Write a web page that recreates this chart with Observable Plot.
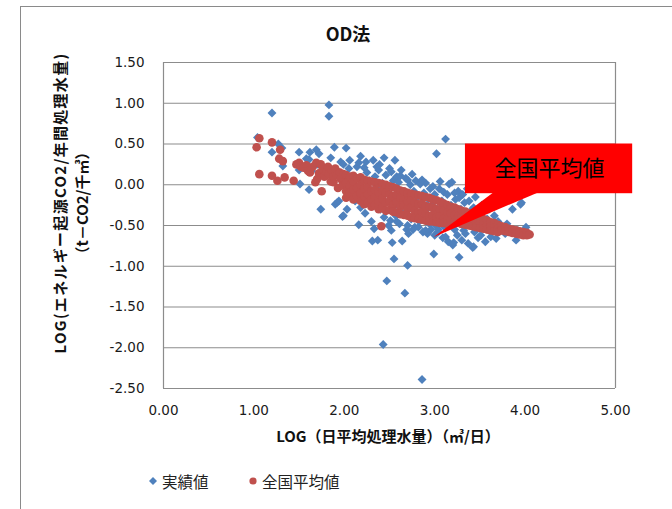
<!DOCTYPE html>
<html>
<head>
<meta charset="utf-8">
<script src="https://cdn.jsdelivr.net/npm/d3@7"></script>
<script src="https://cdn.jsdelivr.net/npm/@observablehq/plot@0.6"></script>
<style>
  html, body { margin: 0; padding: 0; background: #fff; }
  #wrap { position: relative; width: 672px; height: 509px; overflow: hidden; background: #fff; }
  #wrap svg { position: absolute; left: 0; top: 0; }
  .abs { position: absolute; white-space: nowrap; font-family: "Noto Sans CJK JP", sans-serif; color: #111; }
  .border { position: absolute; left: 20px; top: 6px; width: 800px; height: 700px; border-left: 1px solid #8a8a8a; border-top: 1px solid #8a8a8a; }
</style>
</head>
<body>
<div id="wrap">
  <div class="border"></div>
</div>
<script>
// ---- data ----
const chartTitle = "OD法";
const xAxisTitle = "LOG（日平均処理水量）（㎥/日）";
const yAxisTitleLine1 = "LOG(エネルギー起源CO2/年間処理水量)";
const yAxisTitleLine2 = "（t－CO2/千㎥）";
const seriesNames = ["実績値", "全国平均値"];
const seriesColors = ["#4F81BD", "#C0504D"];
const xTicks = [0, 1, 2, 3, 4, 5];
const yTicks = [-2.5, -2, -1.5, -1, -0.5, 0, 0.5, 1, 1.5];
const calloutLabel = "全国平均値";
const calloutBox = [{x1: 3.34, x2: 5.19, y1: -0.11, y2: 0.50}];
const calloutPointer = [[3.64, -0.10], [4.13, -0.10], [2.99, -0.64]];
const calloutTextPos = [{x: 4.27, y: 0.19}];

// 実績値 (x, y)
const actualPoints = [
[1.04,0.58],[1.20,0.88],[1.20,0.40],[1.27,0.50],[1.32,0.23],[1.31,0.45],
[1.50,0.40],[1.51,0.01],[1.50,0.18],[1.58,0.32],[1.61,0.31],[1.61,-0.06],[1.62,0.40],[1.64,0.17],[1.69,0.43],[1.70,0.25],[1.72,0.38],[1.74,-0.30],[1.75,0.12],[1.78,0.20],
[1.83,0.98],[1.83,0.84],[1.85,0.33],[1.87,0.10],[1.89,0.46],[1.90,-0.24],[1.92,-0.22],[1.94,-0.20],[1.95,0.15],[1.96,0.28],[1.98,-0.39],[1.99,-0.38],[1.99,0.25],[2.00,0.05],[2.02,0.45],[2.03,-0.30],[2.04,-0.10],[2.05,0.20],[2.06,0.30],[2.08,-0.15],[2.10,0.10],[2.12,-0.20],[2.14,0.22],[2.16,0.27],[2.16,-0.49],[2.18,0.35],[2.18,-0.28],[2.19,0.08],[2.20,-0.05],[2.22,0.21],[2.23,-0.35],[2.25,0.15],[2.26,-0.12],[2.28,0.05],[2.29,-0.25],[2.30,-0.45],[2.31,-0.69],[2.32,0.30],[2.33,-0.54],[2.34,0.10],[2.35,-0.18],[2.36,-0.02],[2.37,-0.68],[2.38,0.18],[2.39,0.25],[2.40,-0.30],[2.41,-0.10],[2.42,0.02],[2.43,-1.96],[2.44,0.33],[2.44,-0.40],[2.45,-0.22],[2.46,0.12],[2.47,-1.18],[2.48,-0.05],[2.49,-0.50],[2.50,0.20],[2.51,-0.44],[2.52,-0.56],[2.52,-0.30],[2.53,-0.71],[2.54,0.05],[2.55,-0.91],[2.55,-0.15],[2.56,0.30],[2.57,-0.38],[2.58,0.10],[2.59,-0.25],[2.60,0.03],[2.61,-0.48],[2.62,-0.08],[2.63,0.18],[2.64,-0.69],[2.65,-0.35],[2.66,-0.12],[2.67,-1.33],[2.68,0.08],[2.69,-0.55],[2.70,-0.99],[2.70,-0.50],[2.71,-0.60],[2.72,-0.20],[2.73,0.00],[2.74,-0.42],[2.75,0.13],[2.76,-0.28],[2.77,-0.08],[2.78,-0.52],[2.79,0.05],[2.80,-0.35],[2.81,-0.15],[2.82,-0.52],[2.83,-0.45],[2.84,0.01],[2.85,-0.25],[2.86,-2.39],[2.87,-0.58],[2.88,-0.10],[2.89,-0.40],[2.90,0.02],[2.91,-0.30],[2.92,-0.60],[2.93,-0.18],[2.94,-0.48],[2.95,-0.05],[2.96,-0.55],[2.97,-0.25],[2.98,-0.38],[2.99,-0.85],[3.00,-0.62],[3.00,-0.12],[3.01,-0.50],[3.02,0.38],[3.03,-0.30],[3.04,-0.58],[3.05,-0.05],[3.06,0.04],[3.07,-0.45],[3.08,-0.20],[3.09,-0.65],[3.10,-0.09],[3.11,-0.52],[3.12,0.56],[3.12,-0.64],[3.13,-0.35],[3.14,-0.12],[3.15,-0.70],[3.16,0.01],[3.17,-0.42],[3.18,-0.25],[3.19,0.03],[3.20,-0.74],[3.21,-0.71],[3.22,-0.55],[3.23,-0.18],[3.24,-0.38],[3.25,-0.62],[3.26,-0.08],[3.27,-0.89],[3.27,-0.16],[3.28,-0.48],[3.29,-0.30],[3.30,-0.68],[3.31,-0.12],[3.32,-0.56],[3.33,-0.22],[3.34,-0.60],[3.35,-0.40],[3.36,-0.05],[3.37,-0.72],[3.38,-0.20],[3.38,0.02],[3.39,-0.50],[3.40,-0.32],[3.42,-0.77],[3.43,-0.28],[3.43,-0.76],[3.44,-0.58],[3.45,-0.15],[3.45,0.00],[3.46,-0.45],[3.48,-0.65],[3.50,-0.35],[3.51,-0.62],[3.52,-0.25],[3.54,-0.52],[3.56,-0.70],[3.58,-0.42],[3.60,-0.30],[3.62,-0.58],[3.62,-0.64],[3.64,-0.48],[3.66,-0.38],[3.68,-0.66],[3.70,-0.45],[3.72,-0.55],[3.75,-0.52],[3.78,-0.60],[3.80,-0.48],[3.83,-0.58],[3.86,-0.30],[3.90,-0.68],[3.92,-0.56],[3.95,-0.24],[3.96,-0.22],[4.01,-0.52],[4.03,-0.60],
[2.24,0.28],[2.36,0.22],[2.52,0.16],[2.62,0.11],[2.70,0.06],[2.86,0.06],[2.98,-0.02],[3.22,-0.10],[2.58,-0.45],[2.76,-0.55],[2.90,-0.56],[3.04,-0.55]
];

// 全国平均値 (x, y)
const averagePoints = [
[1.03,0.46],[1.06,0.57],[1.06,0.13],[1.20,0.52],[1.20,0.11],[1.26,0.05],[1.28,0.32],[1.29,0.43],[1.32,0.29],[1.34,0.09],[1.44,0.05],[1.47,0.25],[1.50,0.27],[1.52,0.22],[1.55,0.21],[1.58,0.24],[1.60,0.17],[1.62,0.15],[1.65,0.22],[1.68,0.03],[1.69,0.27],[1.70,0.07],[1.72,0.14],[1.74,0.25],[1.75,-0.08],[1.76,0.19],[1.78,0.10],[1.80,0.16],[1.82,0.22],[1.83,0.13],[1.85,0.04],[1.86,0.18],[1.88,0.03],[1.88,0.10],[1.90,0.20],[1.92,0.12],[1.93,-0.04],[1.95,0.15],[1.96,0.07],[1.98,-0.01],[1.99,0.13],
[2.02,0.12],[2.02,0.02],[2.02,-0.08],[2.02,-0.16],
[2.06,0.10],[2.06,-0.01],[2.06,-0.10],
[2.10,0.11],[2.10,0.03],[2.10,-0.06],[2.10,-0.18],
[2.14,0.08],[2.14,-0.04],[2.14,-0.14],
[2.18,0.09],[2.18,0.00],[2.18,-0.10],[2.18,-0.20],
[2.22,0.06],[2.22,-0.05],[2.22,-0.15],[2.22,-0.24],
[2.26,0.05],[2.26,-0.03],[2.26,-0.12],[2.26,-0.22],
[2.30,0.04],[2.30,-0.08],[2.30,-0.18],[2.30,-0.27],
[2.34,0.03],[2.34,-0.06],[2.34,-0.15],[2.34,-0.25],
[2.38,0.02],[2.38,-0.09],[2.38,-0.20],[2.38,-0.30],
[2.41,-0.51],
[2.42,0.01],[2.42,-0.07],[2.42,-0.17],[2.42,-0.28],
[2.46,0.00],[2.46,-0.10],[2.46,-0.22],[2.46,-0.32],
[2.50,-0.02],[2.50,-0.12],[2.50,-0.20],[2.50,-0.31],
[2.54,-0.03],[2.54,-0.14],[2.54,-0.25],[2.54,-0.33],
[2.58,-0.05],[2.58,-0.13],[2.58,-0.22],[2.58,-0.34],
[2.62,-0.07],[2.62,-0.16],[2.62,-0.27],[2.62,-0.36],
[2.66,-0.08],[2.66,-0.18],[2.66,-0.25],[2.66,-0.37],
[2.70,-0.10],[2.70,-0.20],[2.70,-0.30],[2.70,-0.38],
[2.74,-0.11],[2.74,-0.19],[2.74,-0.28],[2.74,-0.40],
[2.78,-0.12],[2.78,-0.22],[2.78,-0.32],[2.78,-0.41],
[2.82,-0.13],[2.82,-0.24],[2.82,-0.34],[2.82,-0.42],
[2.86,-0.14],[2.86,-0.23],[2.86,-0.33],[2.86,-0.43],
[2.90,-0.15],[2.90,-0.26],[2.90,-0.36],[2.90,-0.44],
[2.94,-0.16],[2.94,-0.27],[2.94,-0.38],[2.94,-0.45],
[2.98,-0.18],[2.98,-0.28],[2.98,-0.37],[2.98,-0.45],
[3.02,-0.19],[3.02,-0.30],[3.02,-0.40],[3.02,-0.46],
[3.06,-0.21],[3.06,-0.31],[3.06,-0.39],[3.06,-0.47],
[3.10,-0.23],[3.10,-0.32],[3.10,-0.42],[3.10,-0.47],
[3.14,-0.25],[3.14,-0.34],[3.14,-0.43],[3.14,-0.48],
[3.18,-0.27],[3.18,-0.35],[3.18,-0.44],
[3.22,-0.28],[3.22,-0.37],[3.22,-0.46],
[3.26,-0.30],[3.26,-0.38],[3.26,-0.47],
[3.30,-0.32],[3.30,-0.40],[3.30,-0.48],
[3.34,-0.33],[3.34,-0.41],[3.34,-0.49],
[3.38,-0.35],[3.38,-0.43],[3.38,-0.50],
[3.42,-0.37],[3.42,-0.44],[3.42,-0.51],
[3.46,-0.38],[3.46,-0.46],[3.46,-0.52],
[3.50,-0.40],[3.50,-0.47],[3.50,-0.53],
[3.54,-0.42],[3.54,-0.48],[3.54,-0.54],
[3.58,-0.44],[3.58,-0.50],[3.58,-0.55],
[3.62,-0.46],[3.62,-0.51],[3.62,-0.56],
[3.66,-0.47],[3.66,-0.53],[3.66,-0.57],
[3.70,-0.49],[3.70,-0.54],[3.70,-0.58],
[3.74,-0.51],[3.74,-0.56],
[3.78,-0.52],[3.78,-0.57],
[3.82,-0.54],[3.82,-0.58],
[3.86,-0.55],[3.86,-0.59],
[3.90,-0.56],[3.90,-0.60],
[3.94,-0.57],[3.94,-0.61],
[3.98,-0.58],[3.98,-0.62],
[4.02,-0.59],[4.02,-0.62],
[4.05,-0.61]
];

// ---- chart ----
const fmt = d => d.toFixed(2);
const toObj = ([x, y]) => ({x, y});
const actual = actualPoints.map(toObj);
const average = averagePoints.map(toObj);
const pointer = calloutPointer.map(toObj);
const gridColor = "#8c8c8c";

const chart = Plot.plot({
  width: 672,
  height: 509,
  marginLeft: 163,
  marginRight: 57,
  marginTop: 62,
  marginBottom: 121,
  style: {fontFamily: "DejaVu Sans, sans-serif", fontSize: "13.5px", color: "#1a1a1a", background: "transparent", overflow: "visible"},
  x: {domain: [0, 5]},
  y: {domain: [-2.5, 1.5]},
  marks: [
    Plot.gridY(yTicks, {stroke: gridColor, strokeOpacity: 1, strokeWidth: 1.2}),
    Plot.ruleX([0, 5], {stroke: gridColor, strokeWidth: 1.2}),
    Plot.axisX({ticks: xTicks, tickFormat: fmt, tickSize: 0, tickPadding: 17, label: null}),
    Plot.axisY({ticks: yTicks, tickFormat: fmt, tickSize: 0, tickPadding: 19, label: null}),
    Plot.dot(actual, {x: "x", y: "y", symbol: "diamond2", r: 4, fill: seriesColors[0], stroke: "none"}),
    Plot.dot(average, {x: "x", y: "y", symbol: "circle", r: 4.3, fill: seriesColors[1], stroke: "none"}),
    Plot.line(pointer, {x: "x", y: "y", fill: "#FF0000", stroke: "none"}),
    Plot.rect(calloutBox, {x1: "x1", x2: "x2", y1: "y1", y2: "y2", fill: "#FF0000"}),
    Plot.text(calloutTextPos, {x: "x", y: "y", text: () => calloutLabel, fontSize: 22, fill: "#000", fontFamily: "Noto Sans CJK JP"})
  ]
});

const wrap = document.getElementById("wrap");
wrap.appendChild(chart);

function addText(txt, css) {
  const d = document.createElement("div");
  d.className = "abs";
  d.textContent = txt;
  Object.assign(d.style, css);
  wrap.appendChild(d);
  return d;
}
// title
addText(chartTitle, {left: "248px", width: "200px", textAlign: "center", top: "20px", fontSize: "18px", fontWeight: "bold", lineHeight: "26px"});
// x axis title
addText(xAxisTitle, {left: "188px", width: "400px", textAlign: "center", top: "425px", fontSize: "15px", fontWeight: "bold", lineHeight: "22px"});
// y axis titles (rotated)
addText(yAxisTitleLine1, {left: "-140px", width: "400px", textAlign: "center", top: "192px", fontSize: "15px", fontWeight: "bold", lineHeight: "22px", letterSpacing: "1.3px", transform: "rotate(-90deg)"});
addText(yAxisTitleLine2, {left: "-118.5px", width: "400px", textAlign: "center", top: "192px", fontSize: "15px", fontWeight: "bold", lineHeight: "22px", transform: "rotate(-90deg)"});

// legend
const legendItems = [
  {name: seriesNames[0], color: seriesColors[0], shape: "diamond", mx: 153, tx: 162},
  {name: seriesNames[1], color: seriesColors[1], shape: "circle", mx: 253, tx: 262}
];
legendItems.forEach(it => {
  const s = document.createElementNS("http://www.w3.org/2000/svg", "svg");
  s.setAttribute("width", 10); s.setAttribute("height", 10);
  s.style.position = "absolute"; s.style.left = (it.mx - 5) + "px"; s.style.top = "476px";
  s.innerHTML = it.shape === "diamond"
    ? `<path d="M5,1L9,5L5,9L1,5Z" fill="${it.color}"/>`
    : `<circle cx="5" cy="5" r="3.6" fill="${it.color}"/>`;
  wrap.appendChild(s);
  addText(it.name, {left: it.tx + "px", top: "469px", fontSize: "15.5px", lineHeight: "24px", color: "#222"});
});
</script>
</body>
</html>
